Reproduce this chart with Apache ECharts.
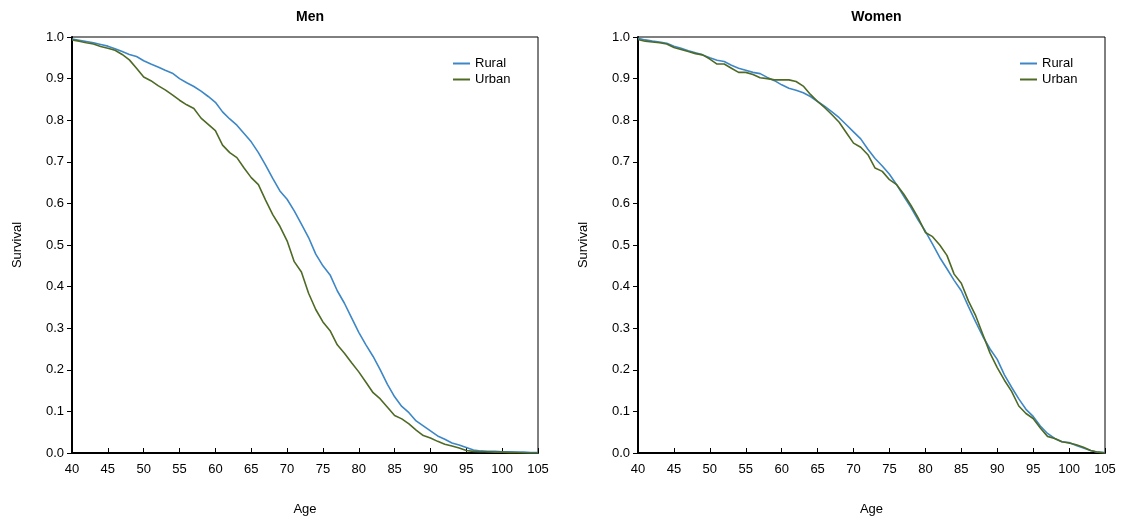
<!DOCTYPE html>
<html>
<head>
<meta charset="utf-8">
<script src="https://cdn.jsdelivr.net/npm/echarts@6/dist/echarts.min.js"></script>
<style>
    html, body {margin: 0; padding: 0; background: #fff;}
    #chart {width: 1121px; height: 522px;}
</style>
</head>
<body>
<div id="chart"></div>
<script>
// ages 40..105, one point per year
let ages = []
for (let a = 40; a <= 105; a++) ages.push(a)

let menRural = [
    0.995, 0.992, 0.989, 0.986, 0.982, 0.978, 0.972, 0.965, 0.958, 0.953,
    0.943, 0.935, 0.928, 0.920, 0.913, 0.900, 0.890, 0.881, 0.870, 0.857,
    0.843, 0.820, 0.803, 0.788, 0.768, 0.748, 0.722, 0.692, 0.660, 0.630,
    0.610, 0.582, 0.550, 0.518, 0.478, 0.450, 0.428, 0.390, 0.360, 0.325,
    0.290, 0.260, 0.232, 0.200, 0.165, 0.135, 0.112, 0.097, 0.077, 0.065,
    0.053, 0.041, 0.033, 0.024, 0.019, 0.013, 0.007, 0.005, 0.004, 0.004,
    0.003, 0.003, 0.002, 0.002, 0.001, 0.001
]
let menUrban = [
    0.993, 0.990, 0.986, 0.983, 0.977, 0.973, 0.968, 0.958, 0.945, 0.925,
    0.904, 0.895, 0.883, 0.873, 0.861, 0.848, 0.837, 0.828, 0.805, 0.790,
    0.775, 0.740, 0.722, 0.710, 0.685, 0.662, 0.645, 0.608, 0.573, 0.545,
    0.510, 0.460, 0.435, 0.384, 0.345, 0.315, 0.294, 0.260, 0.240, 0.217,
    0.195, 0.170, 0.145, 0.130, 0.110, 0.090, 0.082, 0.070, 0.055, 0.042,
    0.036, 0.028, 0.021, 0.017, 0.012, 0.006, 0.004, 0.003, 0.003, 0.002,
    0.002, 0.001, 0.001, 0.000, 0.000, 0.000
]
let womenRural = [
    0.997, 0.993, 0.990, 0.988, 0.985, 0.978, 0.973, 0.967, 0.962, 0.957,
    0.950, 0.944, 0.941, 0.932, 0.925, 0.920, 0.915, 0.912, 0.903, 0.895,
    0.885, 0.877, 0.872, 0.866, 0.857, 0.845, 0.833, 0.820, 0.806, 0.789,
    0.772, 0.755, 0.730, 0.708, 0.690, 0.670, 0.645, 0.617, 0.590, 0.560,
    0.533, 0.502, 0.470, 0.443, 0.415, 0.390, 0.352, 0.315, 0.280, 0.250,
    0.225, 0.188, 0.158, 0.130, 0.105, 0.088, 0.065, 0.047, 0.035, 0.027,
    0.025, 0.018, 0.012, 0.006, 0.002, 0.001
]
let womenUrban = [
    0.994, 0.990, 0.988, 0.986, 0.983, 0.975, 0.970, 0.965, 0.960, 0.957,
    0.947, 0.935, 0.935, 0.925, 0.915, 0.915, 0.910, 0.902, 0.900, 0.897,
    0.897, 0.897, 0.893, 0.882, 0.862, 0.845, 0.830, 0.813, 0.795, 0.770,
    0.745, 0.735, 0.717, 0.685, 0.677, 0.657, 0.645, 0.622, 0.595, 0.565,
    0.530, 0.520, 0.500, 0.475, 0.430, 0.408, 0.365, 0.330, 0.285, 0.240,
    0.205, 0.175, 0.148, 0.113, 0.095, 0.083, 0.060, 0.040, 0.035, 0.027,
    0.024, 0.020, 0.014, 0.006, 0.002, 0.000
]
let panelTitles = ['Men', 'Women']
let seriesNames = ['Rural', 'Urban']

let font = 'Liberation Sans, Arial, sans-serif'
let colors = ['#3d87c6', '#4e6a25']

let pair = (xs, ys) => xs.map((x, i) => [x, ys[i]])

let grids = [
    {left: 72, top: 37, width: 466, height: 416},
    {left: 638, top: 37, width: 467, height: 416}
]

let xAxis = grids.map((g, i) => ({
    type: 'value',
    gridIndex: i,
    min: 40,
    max: 105,
    interval: 5,
    name: 'Age',
    nameLocation: 'middle',
    nameGap: 50,
    nameTextStyle: {color: '#000', fontSize: 13, fontFamily: font},
    axisLine: {lineStyle: {color: '#000', width: 2}},
    axisTick: {inside: true, length: 5, lineStyle: {color: '#000'}},
    axisLabel: {color: '#000', fontSize: 13, fontFamily: font, margin: 10},
    splitLine: {show: false}
}))

let yAxis = grids.map((g, i) => ({
    type: 'value',
    gridIndex: i,
    min: 0,
    max: 1,
    interval: 0.1,
    name: 'Survival',
    nameLocation: 'middle',
    nameGap: 48,
    nameTextStyle: {color: '#000', fontSize: 13, fontFamily: font},
    axisLine: {show: true, lineStyle: {color: '#000', width: 2}},
    axisTick: {show: true, length: 5, lineStyle: {color: '#000'}},
    axisLabel: {
        color: '#000', fontSize: 13, fontFamily: font, margin: 8,
        formatter: v => v.toFixed(1)
    },
    splitLine: {show: false}
}))

let lineSeries = (name, data, idx, color) => ({
    name: name,
    type: 'line',
    xAxisIndex: idx,
    yAxisIndex: idx,
    data: data,
    symbol: 'none',
    lineStyle: {color: color, width: 1.6},
    itemStyle: {color: color},
    emphasis: {disabled: true}
})

let myChart = echarts.init(document.getElementById('chart'), null, {renderer: 'canvas'})
let option = {
    animation: false,
    backgroundColor: '#fff',
    title: panelTitles.map((t, i) => ({
        text: t,
        left: grids[i].left + grids[i].width / 2,
        textAlign: 'center',
        top: 5,
        textStyle: {fontSize: 14, fontWeight: 'bold', color: '#000', fontFamily: font}
    })),
    legend: grids.map((g, i) => ({
        orient: 'vertical',
        left: g.left + g.width - 90,
        top: 52,
        itemWidth: 17,
        itemHeight: 2,
        itemGap: 3,
        icon: 'rect',
        textStyle: {color: '#000', fontSize: 13, fontFamily: font},
        data: seriesNames
    })),
    grid: grids.map(g => Object.assign({show: true, borderColor: '#000', borderWidth: 1, backgroundColor: 'transparent'}, g)),
    xAxis: xAxis,
    yAxis: yAxis,
    series: [
        lineSeries('Rural', pair(ages, menRural), 0, colors[0]),
        lineSeries('Urban', pair(ages, menUrban), 0, colors[1]),
        lineSeries('Rural', pair(ages, womenRural), 1, colors[0]),
        lineSeries('Urban', pair(ages, womenUrban), 1, colors[1])
    ]
}
myChart.setOption(option)
</script>
</body>
</html>
